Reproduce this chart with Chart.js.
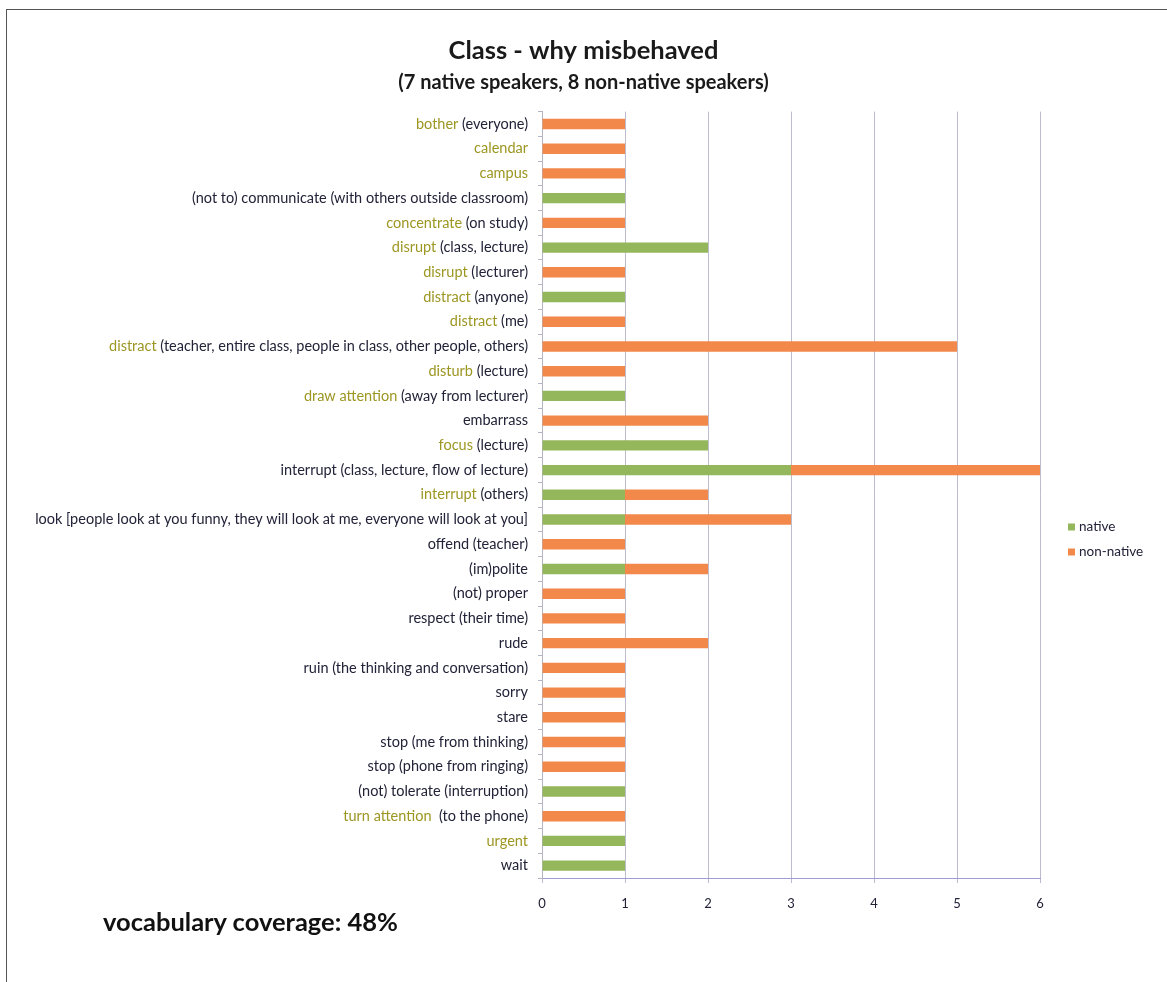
<!DOCTYPE html>
<html>
<head>
<meta charset="utf-8">
<title>Class - why misbehaved</title>
<script src="https://cdn.jsdelivr.net/npm/chart.js@4.4.1/dist/chart.umd.min.js"></script>
<style>
  body { margin: 0; background: #fff; overflow: hidden; }
  #wrap { position: absolute; left: 0; top: 0; width: 1167px; height: 982px; }
  #frame { position: absolute; left: 6px; top: 9px; width: 1200px; height: 1000px; border: 1.5px solid #555; }
  #coverage { position: absolute; left: 103px; top: 906px; font: bold 25.5px Lato, "Open Sans", sans-serif; color: #111; }
</style>
</head>
<body>
<div id="frame"></div>
<div id="wrap"><canvas id="myChart"></canvas></div>
<div id="coverage">vocabulary coverage: 48%</div>
<script>
// highlighted word of each row, then the rest of the row label
const keyWords = ['bother', 'calendar', 'campus', '', 'concentrate', 'disrupt', 'disrupt', 'distract', 'distract', 'distract',
  'disturb', 'draw attention', '', 'focus', '', 'interrupt', '', '', '', '', '', '', '', '', '', '', '', '',
  'turn attention', 'urgent', ''];
const restWords = [' (everyone)', '', '', '(not to) communicate (with others outside classroom)', ' (on study)', ' (class, lecture)',
  ' (lecturer)', ' (anyone)', ' (me)', ' (teacher, entire class, people in class, other people, others)', ' (lecture)',
  ' (away from lecturer)', 'embarrass', ' (lecture)', 'interrupt (class, lecture, flow of lecture)', ' (others)',
  'look [people look at you funny, they will look at me, everyone will look at you]', 'offend (teacher)', '(im)polite',
  '(not) proper', 'respect (their time)', 'rude', 'ruin (the thinking and conversation)', 'sorry', 'stare',
  'stop (me from thinking)', 'stop (phone from ringing)', '(not) tolerate (interruption)', '  (to the phone)', '', 'wait'];
const labels = keyWords.map((k, i) => k + restWords[i]);

const nativeCounts    = [0, 0, 0, 1, 0, 2, 0, 1, 0, 0, 0, 1, 0, 2, 3, 1, 1, 0, 1, 0, 0, 0, 0, 0, 0, 0, 0, 1, 0, 1, 1];
const nonNativeCounts = [1, 1, 1, 0, 1, 0, 1, 0, 1, 5, 1, 0, 2, 0, 3, 1, 2, 1, 1, 1, 1, 2, 1, 1, 1, 1, 1, 0, 1, 0, 0];
const xTicks = [0, 1, 2, 3, 4, 5, 6];

const FONT = 'Lato, "Open Sans", sans-serif';
const KEY_COLOR = '#9c9622';
const TEXT_COLOR = '#222238';

// two-colour row labels (keyword + rest)
const rowLabels = {
  id: 'rowLabels',
  afterDraw(chart) {
    const ctx = chart.ctx;
    const y = chart.scales.y;
    ctx.save();
    ctx.font = '14.5px ' + FONT;
    ctx.textAlign = 'right';
    ctx.textBaseline = 'middle';
    const xr = y.right - 14;
    labels.forEach((l, i) => {
      const py = y.getPixelForValue(i);
      ctx.fillStyle = TEXT_COLOR;
      ctx.fillText(restWords[i], xr, py);
      const w = ctx.measureText(restWords[i]).width;
      ctx.fillStyle = KEY_COLOR;
      ctx.fillText(keyWords[i], xr - w, py);
    });
    ctx.restore();
  }
};

// legend on the right side
const sideLegend = {
  id: 'sideLegend',
  afterDraw(chart) {
    const ctx = chart.ctx;
    ctx.save();
    ctx.font = '13.5px ' + FONT;
    ctx.textBaseline = 'middle';
    chart.data.datasets.forEach((ds, i) => {
      const ly = 527 + i * 25;
      ctx.fillStyle = ds.backgroundColor;
      ctx.fillRect(1068, ly - 3.5, 7, 7);
      ctx.fillStyle = TEXT_COLOR;
      ctx.fillText(ds.label, 1079, ly);
    });
    ctx.restore();
  }
};

const ctx = document.getElementById('myChart').getContext('2d');

var graphData = {
  type: 'bar',
  data: {
    labels: labels,
    datasets: [{
      label: 'native',
      data: nativeCounts,
      backgroundColor: '#95b75b',
      borderWidth: 0
    }, {
      label: 'non-native',
      data: nonNativeCounts,
      backgroundColor: '#f2894b',
      borderWidth: 0
    }]
  },
  options: {
    indexAxis: 'y',
    responsive: true,
    maintainAspectRatio: false,
    animation: false,
    barPercentage: 0.42,
    categoryPercentage: 1,
    layout: { padding: 0 },
    plugins: {
      legend: { display: false },
      tooltip: { enabled: false },
      title: {
        display: true,
        text: 'Class - why misbehaved',
        color: '#1a1a1a',
        font: { family: FONT, size: 25.5, weight: 'bold' },
        padding: { top: 35, bottom: 5 }
      },
      subtitle: {
        display: true,
        text: '(7 native speakers, 8 non-native speakers)',
        color: '#1a1a1a',
        font: { family: FONT, size: 20, weight: 'bold' },
        padding: { top: 0, bottom: 17 }
      }
    },
    scales: {
      x: {
        stacked: true,
        min: 0,
        max: 6,
        afterBuildTicks: s => { s.ticks = xTicks.map(v => ({ value: v })); },
        afterFit: s => { s.height = 104; },
        grid: { color: '#bcbccc', lineWidth: 1, tickLength: 5 },
        border: { color: '#9c9cd2', width: 1 },
        ticks: { color: TEXT_COLOR, padding: 13, font: { family: FONT, size: 13 } }
      },
      y: {
        stacked: true,
        afterFit: s => { s.width = 542; },
        grid: { display: true, drawOnChartArea: false, color: '#b4b4c4', tickLength: 4, offset: true },
        border: { color: '#b4b4c4', width: 1 },
        ticks: { color: 'rgba(0,0,0,0)', autoSkip: false, font: { family: FONT, size: 12 } }
      },
      // empty strip on the right that holds the legend
      side: {
        type: 'linear',
        position: 'right',
        display: true,
        afterFit: s => { s.width = 127; },
        grid: { display: false },
        border: { display: false },
        ticks: { display: false }
      }
    }
  },
  plugins: [rowLabels, sideLegend]
};

const myChart = new Chart(ctx, graphData);
</script>
</body>
</html>
